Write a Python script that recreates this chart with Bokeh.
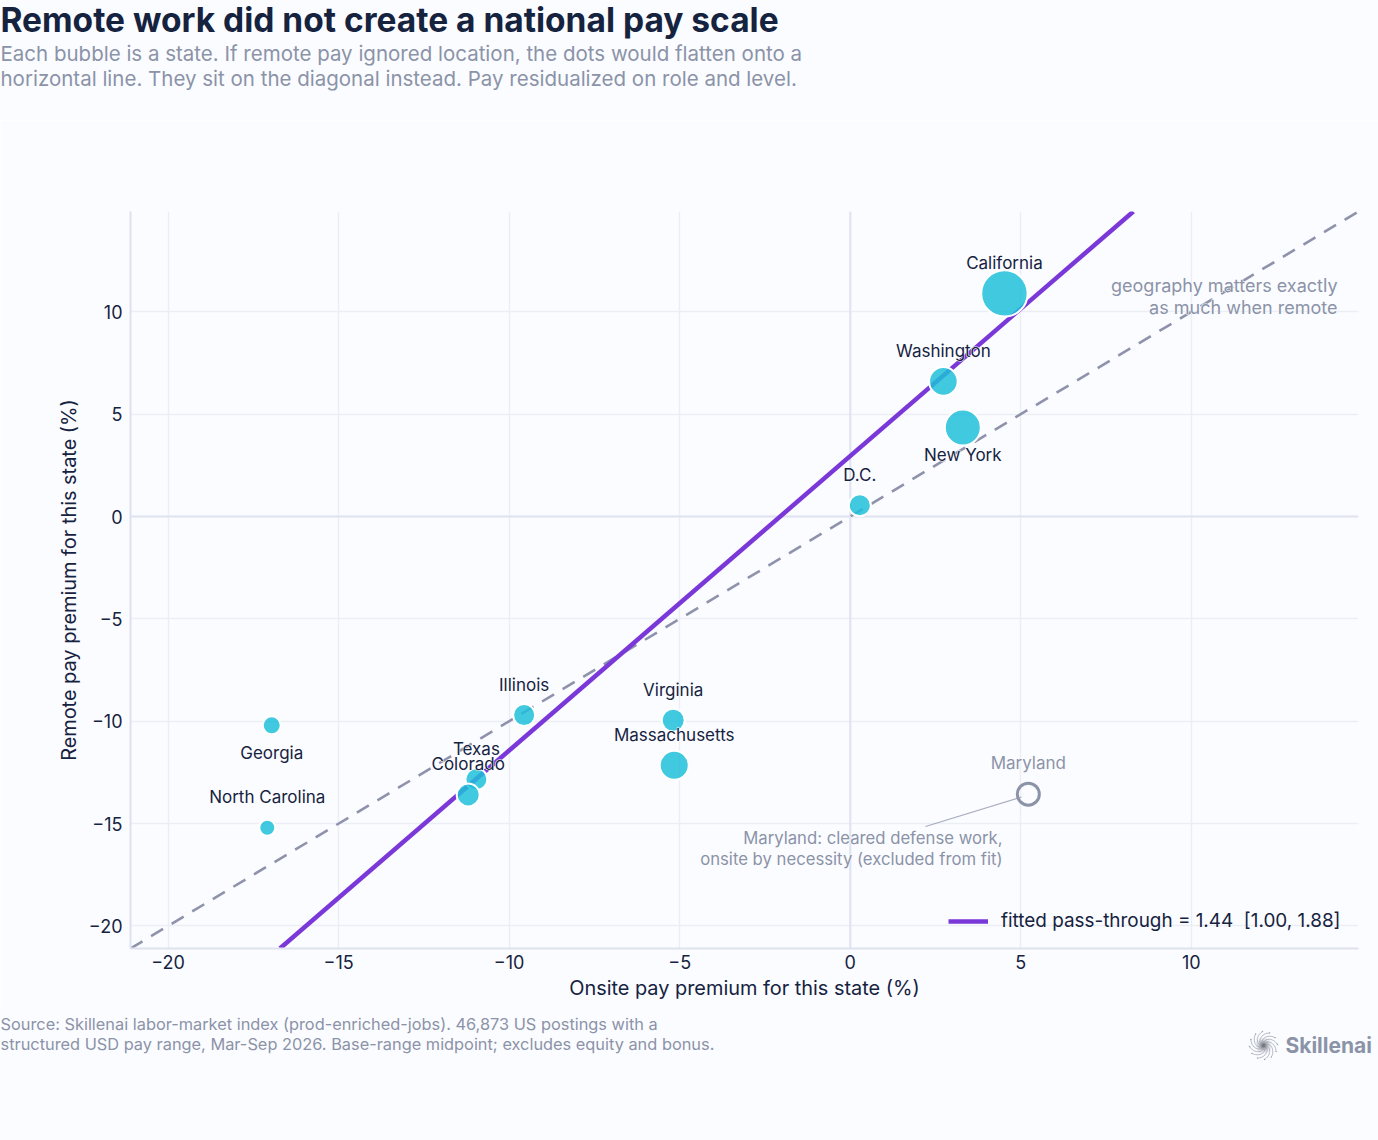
import math
from bokeh.core.properties import value
from bokeh.embed import file_html
from bokeh.layouts import column
from bokeh.resources import INLINE
from bokeh.plotting import figure
from bokeh.models import (ColumnDataSource, FixedTicker, Label, Legend, LegendItem, Span)

# ---- data ----
states = ["California", "Washington", "New York", "D.C.", "Illinois", "Virginia",
          "Massachusetts", "Texas", "Colorado", "Georgia", "North Carolina"]
onsite = [4.52, 2.73, 3.30, 0.28, -9.56, -5.19, -5.16, -10.96, -11.20, -16.96, -17.09]
remote = [10.90, 6.60, 4.35, 0.55, -9.70, -9.95, -12.15, -12.83, -13.60, -10.20, -15.20]
postings = [10000, 3800, 6000, 2250, 2250, 2460, 3910, 2250, 2460, 1510, 1190]
label_side = ["above", "above", "below", "above", "above", "above",
              "above", "above", "above", "below", "above"]
excluded_state = ["Maryland"]
excluded_onsite = [5.22]
excluded_remote = [-13.56]
excluded_postings = [2250]
parity_x = [-21.1, 14.9]
parity_y = [-21.1, 14.9]
fit_x = [-16.72, 8.30]
fit_y = [-21.1, 14.9]
x_ticks = [-20, -15, -10, -5, 0, 5, 10]
y_ticks = [-20, -15, -10, -5, 0, 5, 10]
tick_text = {-20: "\u221220", -15: "\u221215", -10: "\u221210", -5: "\u22125", 0: "0", 5: "5", 10: "10"}

TITLE = "Remote work did not create a national pay scale"
SUBTITLE = ["Each bubble is a state. If remote pay ignored location, the dots would flatten onto a",
            "horizontal line. They sit on the diagonal instead. Pay residualized on role and level."]
SOURCE = ["Source: Skillenai labor-market index (prod-enriched-jobs). 46,873 US postings with a",
          "structured USD pay range, Mar-Sep 2026. Base-range midpoint; excludes equity and bonus."]
NOTE_PARITY = ["geography matters exactly", "as much when remote"]
NOTE_MD = ["Maryland: cleared defense work,", "onsite by necessity (excluded from fit)"]
LEGEND_TEXT = "fitted pass-through = 1.44  [1.00, 1.88]"
X_TITLE = "Onsite pay premium for this state (%)"
Y_TITLE = "Remote pay premium for this state (%)"

# ---- style ----
FONT = "Inter"
BG = "#FBFCFF"
INK = "#16233F"
MUTED = "#8B93A8"
GRID = "#ECEEF6"
AXIS = "#DDE2EE"
PURPLE = "#7B38D8"
CYAN = "#1FBFD9"
W = 1378
HEAD_H, FOOT_Y, PAGE_H = 120, 1005, 1140
L, R, T, B = 130, 1358, 211, 948
X0, X1, Y0, Y1 = -21.1, 14.9, -21.1, 14.9


def dx(px):
    return X0 + (px - L) / (R - L) * (X1 - X0)


def dy(py):
    return Y1 - (py - T) / (B - T) * (Y1 - Y0)


def strip(y_top, y_bottom):
    """An axis-free band whose data coordinates are page pixels."""
    f = figure(width=W, height=y_bottom - y_top, output_backend="svg", toolbar_location=None,
               x_range=(0, W), y_range=(y_bottom, y_top), x_axis_type=None, y_axis_type=None,
               background_fill_color=BG, border_fill_color=BG, min_border=0, frame_align=False)
    f.outline_line_color = None
    f.grid.visible = False
    return f


head = strip(0, HEAD_H)
foot = strip(FOOT_Y, PAGE_H)

p = figure(width=W, height=FOOT_Y - HEAD_H, output_backend="svg", toolbar_location=None,
           x_range=(X0, X1), y_range=(Y0, Y1), background_fill_color=BG,
           border_fill_color=BG, min_border_left=L, min_border_right=W - R,
           min_border_top=T - HEAD_H, min_border_bottom=FOOT_Y - B, frame_align=False)
p.outline_line_color = None

for ax, ticks, title in ((p.xaxis[0], x_ticks, X_TITLE), (p.yaxis[0], y_ticks, Y_TITLE)):
    ax.ticker = FixedTicker(ticks=ticks)
    ax.major_label_overrides = tick_text
    ax.axis_label = title
    ax.axis_label_text_font = FONT
    ax.axis_label_text_font_size = "19.9px"
    ax.axis_label_text_font_style = "normal"
    ax.axis_label_text_color = INK
    ax.major_label_text_font = FONT
    ax.major_label_text_font_size = "18px"
    ax.major_label_text_color = INK
    ax.axis_line_color = AXIS
    ax.axis_line_width = 2
    ax.major_tick_line_color = None
    ax.minor_tick_line_color = None
p.xaxis[0].major_label_standoff = 0
p.yaxis[0].major_label_standoff = 2
p.xaxis[0].axis_label_standoff = 4
p.yaxis[0].axis_label_standoff = 5
p.yaxis[0].major_label_orientation = "horizontal"
p.xgrid[0].grid_line_color = GRID
p.ygrid[0].grid_line_color = GRID
p.xgrid[0].grid_line_width = 1.5
p.ygrid[0].grid_line_width = 1.5

for dim in ("width", "height"):
    p.add_layout(Span(location=0, dimension=dim, line_color="#E0E3F0", line_width=2, level="underlay"))


def note(f, text, x, y, size=18, color=MUTED, align="left", style="normal", halo=False):
    common = dict(x=x, y=y, text=text, text_font=FONT, text_font_size=f"{size}px", text_align=align,
                  text_baseline="middle", text_font_style=style)
    if halo:
        f.add_layout(Label(text_color=BG, text_outline_color=BG, **common))
    f.add_layout(Label(text_color=color, **common))


# lines
parity = p.line(parity_x, parity_y, line_color="#8E93AB", line_width=2.6, line_dash=[14, 10])
fit = p.line(fit_x, fit_y, line_color=PURPLE, line_width=4.5)

# connector from the note to Maryland
p.segment(x0=[dx(925)], y0=[dy(826)], x1=[dx(1021)], y1=[dy(796.5)],
          line_color=MUTED, line_width=1.2, line_alpha=0.75)

# bubbles


def bubble_size(values):
    return [0.4638 * math.sqrt(v) for v in values]


src = ColumnDataSource(dict(x=onsite, y=remote, s=bubble_size(postings), name=states,
                            off=[28 if side == "below" else -30.5 for side in label_side]))
p.scatter("x", "y", size="s", source=src, fill_color=CYAN, fill_alpha=0.85,
          line_color="#FFFFFF", line_width=2)
md = ColumnDataSource(dict(x=excluded_onsite, y=excluded_remote, s=bubble_size(excluded_postings),
                           name=excluded_state, off=[-31]))
p.scatter("x", "y", size="s", source=md, fill_color=None, line_color=MUTED, line_width=3)

# state labels, each with a thin background-coloured halo
for source, colour in ((src, INK), (md, MUTED)):
    p.text("x", "y", text="name", source=source, y_offset="off", text_font=value(FONT), text_font_size="17px",
           text_color=BG, text_outline_color=BG, text_align="center", text_baseline="middle")
    p.text("x", "y", text="name", source=source, y_offset="off", text_font=value(FONT), text_font_size="17px",
           text_color=colour, text_align="center", text_baseline="middle")

# legend
legend = Legend(items=[LegendItem(label=LEGEND_TEXT, renderers=[fit])], location=(810, 8),
                background_fill_alpha=0, border_line_alpha=0, glyph_width=40, glyph_height=20,
                label_standoff=13, label_text_font=FONT, label_text_font_size="18.9px",
                label_text_color=INK, margin=0, padding=8)
p.add_layout(legend)

# notes inside the plot
note(p, NOTE_PARITY[0], dx(1337), dy(285), align="right", halo=True)
note(p, NOTE_PARITY[1], dx(1337), dy(306.5), align="right", halo=True)
note(p, NOTE_MD[0], dx(1002), dy(837.5), size=16.7, align="right", halo=True)
note(p, NOTE_MD[1], dx(1002), dy(858), size=16.7, align="right", halo=True)

# headings and footer
note(head, TITLE, 0, 19, size=33.5, color=INK, style="bold")
note(head, SUBTITLE[0], 0, 52.5, size=20.5)
note(head, SUBTITLE[1], 0, 77.5, size=20.5)
note(foot, SOURCE[0], 0, 1023, size=16.35)
note(foot, SOURCE[1], 0, 1043, size=16.35)
note(foot, "Skillenai", 1285, 1045, size=21, style="bold")

# logo: a soft dark core with swirling arms
CX, CY = 1263, 1045
for r, a in ((8, 0.10), (6, 0.14), (4.5, 0.2), (3, 0.3), (1.7, 0.4)):
    foot.circle([CX], [CY], radius=r, fill_color="#444a55", fill_alpha=a, line_alpha=0)
arm_xs, arm_ys, tip_x, tip_y = [], [], [], []
for k in range(12):
    base = k / 12 * 2 * math.pi
    pts = [(3 + 11 * i / 12, base + 1.5 * i / 12) for i in range(13)]
    arm_xs.append([CX + r * math.cos(t) for r, t in pts])
    arm_ys.append([CY + r * math.sin(t) for r, t in pts])
    tip_x.append(arm_xs[-1][-1])
    tip_y.append(arm_ys[-1][-1])
foot.multi_line(arm_xs, arm_ys, line_color="#9AA0AD", line_width=0.8, line_alpha=0.9)
foot.circle(tip_x, tip_y, radius=0.7, fill_color="#9AA0AD", line_alpha=0)

page = column(head, p, foot, spacing=0)
open("out.html", "w").write(file_html(page, INLINE))
